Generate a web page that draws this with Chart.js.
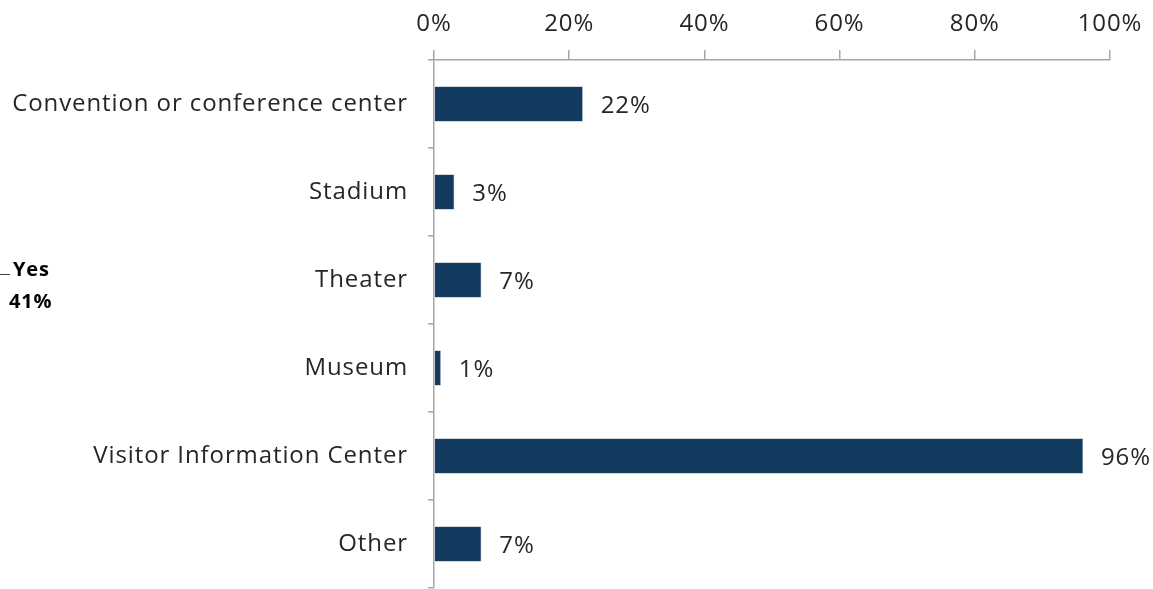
<!DOCTYPE html>
<html>
<head>
<meta charset="utf-8">
<script src="https://cdn.jsdelivr.net/npm/chart.js@4"></script>
<style>
  html, body { margin: 0; padding: 0; background: #ffffff; }
  #wrap { width: 1153px; height: 589px; position: relative; }
</style>
</head>
<body>
<div id="wrap"><canvas id="c" width="1153" height="589"></canvas></div>
<script>
const categories = [
  'Convention or conference center',
  'Stadium',
  'Theater',
  'Museum',
  'Visitor Information Center',
  'Other'
];
const shares = [22, 3, 7, 1, 96, 7];
const tickValues = [0, 20, 40, 60, 80, 100];
const sideLabel = ['Yes', '41%'];

const FONT = '"Open Sans", Lato, sans-serif';
const TEXT = '#262626';
const AXIS = '#a6a6a6';
const BAR = '#133b5f';
const SPACING = '0.9px';

// slightly open letter spacing for all text on the canvas
const textSpacing = {
  id: 'textSpacing',
  beforeDraw(chart) {
    chart.ctx.letterSpacing = SPACING;
  }
};

// value labels printed just past the end of each bar
const valueLabels = {
  id: 'valueLabels',
  afterDatasetsDraw(chart) {
    const ctx = chart.ctx;
    const meta = chart.getDatasetMeta(0);
    ctx.save();
    ctx.letterSpacing = SPACING;
    ctx.font = '24px ' + FONT;
    ctx.fillStyle = TEXT;
    ctx.textAlign = 'left';
    ctx.textBaseline = 'middle';
    meta.data.forEach((bar, i) => {
      ctx.fillText(shares[i] + '%', bar.x + 18, bar.y + 2);
    });
    ctx.restore();
  }
};

// callout text at the far left edge
const sideNote = {
  id: 'sideNote',
  afterDraw(chart) {
    const ctx = chart.ctx;
    ctx.save();
    ctx.strokeStyle = '#404040';
    ctx.lineWidth = 1;
    ctx.beginPath();
    ctx.moveTo(0, 274.5);
    ctx.lineTo(10, 274.5);
    ctx.stroke();
    ctx.letterSpacing = '0.8px';
    ctx.font = 'bold 20px ' + FONT;
    ctx.fillStyle = '#000000';
    ctx.textAlign = 'left';
    ctx.textBaseline = 'middle';
    ctx.fillText(sideLabel[0], 13, 270);
    ctx.fillText(sideLabel[1], 9, 302);
    ctx.restore();
  }
};

new Chart(document.getElementById('c'), {
  type: 'bar',
  data: {
    labels: categories,
    datasets: [{
      data: shares,
      backgroundColor: BAR,
      borderColor: '#4a6d8c',
      borderWidth: 0.6,
      barPercentage: 0.4,
      categoryPercentage: 1.0
    }]
  },
  options: {
    indexAxis: 'y',
    responsive: false,
    animation: false,
    devicePixelRatio: 1,
    layout: { padding: { left: 0, right: 43, top: 0, bottom: 1 } },
    plugins: {
      legend: { display: false },
      tooltip: { enabled: false }
    },
    scales: {
      x: {
        position: 'top',
        min: 0,
        max: 100,
        afterBuildTicks(scale) {
          scale.ticks = tickValues.map(v => ({ value: v }));
        },
        afterFit(scale) {
          scale.height = 60;
          scale.paddingLeft = 0;
          scale.paddingRight = 0;
        },
        border: { display: true, color: AXIS, width: 1.5 },
        grid: {
          display: true,
          drawOnChartArea: false,
          drawTicks: true,
          tickLength: 10,
          color: AXIS,
          lineWidth: 1.5
        },
        ticks: {
          padding: 11,
          color: TEXT,
          font: { family: FONT, size: 24 },
          maxRotation: 0,
          callback: v => v + '%'
        }
      },
      y: {
        afterFit(scale) {
          scale.width = 434;
          scale.paddingTop = 0;
          scale.paddingBottom = 0;
        },
        border: { display: true, color: AXIS, width: 1.5 },
        grid: {
          display: true,
          offset: true,
          drawOnChartArea: false,
          drawTicks: true,
          tickLength: 6,
          color: AXIS,
          lineWidth: 1.5
        },
        ticks: {
          padding: 20,
          color: TEXT,
          font: { family: FONT, size: 24 }
        }
      }
    }
  },
  plugins: [textSpacing, valueLabels, sideNote]
});
</script>
</body>
</html>
